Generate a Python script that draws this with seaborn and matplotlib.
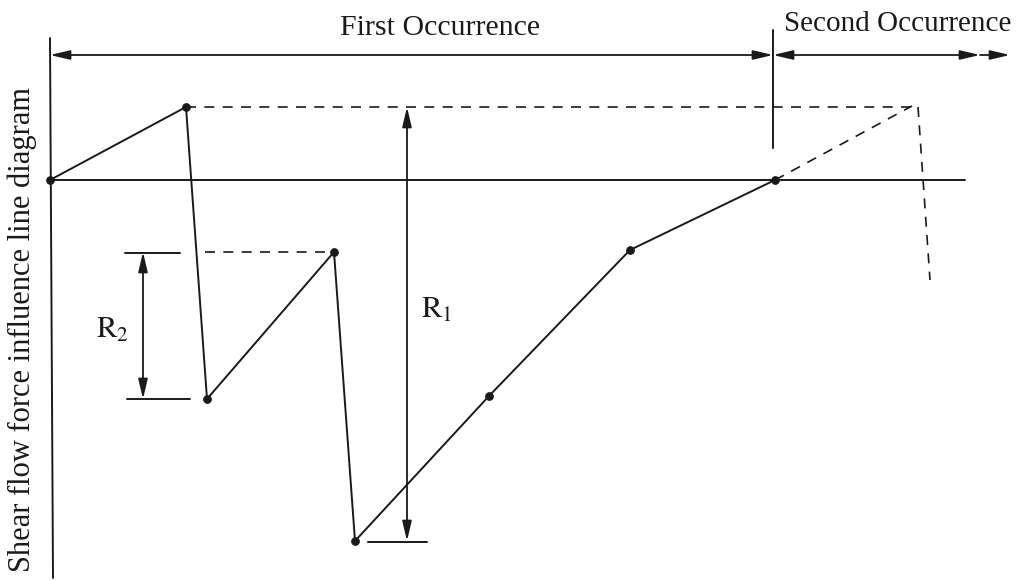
import matplotlib
matplotlib.use("Agg")
import matplotlib.pyplot as plt
import seaborn as sns
import pandas as pd

sns.set_style("white")
plt.rcParams["font.family"] = ["Liberation Serif", "DejaVu Serif"]
plt.rcParams["mathtext.fontset"] = "stix"

# Influence line ordinates (position along span, ordinate)
positions = [0.00, 1.36, 1.57, 2.84, 3.05, 4.39, 5.80, 7.25]
ordinates = [0.00, 0.73, -2.19, -0.72, -3.61, -2.16, -0.70, 0.00]

# Second occurrence (dashed) geometry
second_x = [7.25, 8.62]
second_y = [0.00, 0.74]
drop_x = [8.68, 8.80]
drop_y = [0.73, -1.00]

boundary_x = 7.23          # end of first occurrence
span_end = 9.60            # end of second occurrence arrow
baseline_end = 9.15
arrow_level = 1.25

R1_x = 3.57
R2_x = 0.93

fig = plt.figure(figsize=(10.23, 5.80), dpi=100)
ax = fig.add_axes([0, 0, 1, 1])
ax.set_xlim(-0.50, 9.73)
ax.set_ylim(-4.00, 1.80)
ax.axis("off")

ink = "#1a1a1a"
lw = 1.4
# vertical reference axis and zero baseline
ax.plot([0, 0.03], [1.42, -3.98], color=ink, lw=lw)
ax.plot([0, baseline_end], [0, 0], color=ink, lw=lw)

# main influence line
df = pd.DataFrame({"x": positions, "y": ordinates})
sns.lineplot(data=df, x="x", y="y", sort=False, color=ink, lw=lw,
             marker="o", markersize=5.5, markeredgecolor=ink, ax=ax,
             legend=False)

# dashed construction lines
dash = dict(color=ink, lw=1.2, ls=(0, (6, 5)))
ax.plot([positions[1], drop_x[0]], [ordinates[1], drop_y[0]], **dash)
ax.plot(second_x, second_y, **dash)
ax.plot(drop_x, drop_y, **dash)
ax.plot([1.55, positions[3]], [ordinates[3], ordinates[3]], **dash)

# occurrence arrows
head = "head_length=0.85,head_width=0.2"
arrow_kw = dict(arrowstyle="<|-|>," + head, color=ink,
                lw=1.3, mutation_scale=14, shrinkA=0, shrinkB=0)
ax.annotate("", xy=(0, arrow_level), xytext=(boundary_x, arrow_level),
            arrowprops=arrow_kw)
ax.annotate("", xy=(boundary_x, arrow_level), xytext=(span_end - 0.3, arrow_level),
            arrowprops=arrow_kw)
ax.annotate("", xy=(span_end, arrow_level), xytext=(span_end - 0.3, arrow_level),
            arrowprops=dict(arrowstyle="-|>," + head, color=ink, lw=1.3,
                            mutation_scale=14, shrinkA=0, shrinkB=0))
ax.plot([boundary_x, boundary_x], [1.50, 0.32], color=ink, lw=lw)

ax.text(3.90, 1.52, "First Occurrence", fontsize=21.5, ha="center", va="center",
        color=ink)
ax.text(8.48, 1.56, "Second Occurrence", fontsize=21, ha="center", va="center",
        color=ink)

# R1 dimension
ax.annotate("", xy=(R1_x, ordinates[1]), xytext=(R1_x, ordinates[4]),
            arrowprops=arrow_kw)
ax.plot([3.18, 3.77], [ordinates[4] - 0.01, ordinates[4] - 0.01], color=ink, lw=lw)
ax.text(3.87, -1.30, r"$\mathrm{R}_1$", fontsize=22, ha="center", va="center",
        color=ink)

# R2 dimension
ax.annotate("", xy=(R2_x, ordinates[3]), xytext=(R2_x, ordinates[2]),
            arrowprops=arrow_kw)
ax.plot([0.75, 1.30], [ordinates[3] - 0.01, ordinates[3] - 0.01], color=ink, lw=lw)
ax.plot([0.77, 1.40], [ordinates[2], ordinates[2]], color=ink, lw=lw)
ax.text(0.62, -1.50, r"$\mathrm{R}_2$", fontsize=22, ha="center", va="center",
        color=ink)

ax.text(-0.28, -1.50, "Shear flow force influence line diagram", fontsize=22,
        rotation=90, ha="center", va="center", color=ink)

fig.savefig("out.png", dpi=100, facecolor="white")
